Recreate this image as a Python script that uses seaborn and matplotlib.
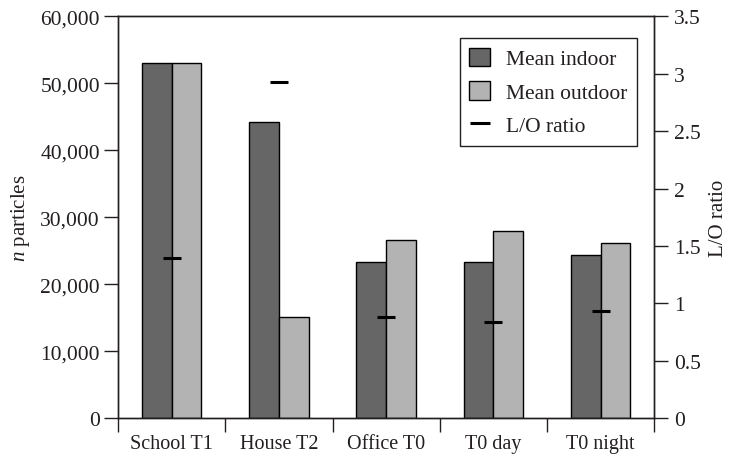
import numpy as np
import pandas as pd
import matplotlib
matplotlib.use("Agg")
import matplotlib.pyplot as plt
from matplotlib.patches import Patch
from matplotlib.lines import Line2D
from matplotlib.ticker import FixedLocator, FuncFormatter, MultipleLocator
import seaborn as sns

sites = ["School T1", "House T2", "Office T0", "T0 day", "T0 night"]
mean_indoor = [53000, 44200, 23400, 23400, 24400]
mean_outdoor = [53000, 15100, 26600, 27900, 26100]
lo_ratio = [1.40, 2.93, 0.88, 0.84, 0.93]
series_names = ["Mean indoor", "Mean outdoor"]
ratio_name = "L/O ratio"

dark = "#666666"
light = "#b3b3b3"
ink = "#231f20"

sns.set_style("ticks")
plt.rcParams["font.family"] = ["Liberation Serif", "DejaVu Serif"]
plt.rcParams["mathtext.fontset"] = "custom"
plt.rcParams["mathtext.it"] = "Liberation Serif:italic"
plt.rcParams["mathtext.rm"] = "Liberation Serif"
fs_y = 15.5
fs_x = 14.5
fs_lab = 15.0
fs_leg = 15.5

df = pd.DataFrame({
    "site": sites * 2,
    "series": [series_names[0]] * len(sites) + [series_names[1]] * len(sites),
    "count": mean_indoor + mean_outdoor,
})

fig = plt.figure(figsize=(7.3, 4.56), dpi=100)
ax = fig.add_axes([0.1616, 0.0805, 0.8963 - 0.1616, 0.962 - 0.0805])

sns.barplot(data=df, x="site", y="count", hue="series", order=sites,
            hue_order=series_names, palette=[dark, light], width=0.556,
            saturation=1, edgecolor="black", linewidth=1.0, ax=ax,
            legend=False, errorbar=None)

ax.set_ylim(0, 60000)
ax.yaxis.set_major_locator(MultipleLocator(10000))
ax.yaxis.set_major_formatter(FuncFormatter(lambda v, p: f"{int(v):,}"))
ax.set_ylabel(r"$\mathit{n}$ particles", fontsize=fs_lab, color=ink, labelpad=6)
ax.set_xlabel("")

ax2 = ax.twinx()
sns.scatterplot(x=np.arange(len(sites)), y=lo_ratio, marker="_", s=180,
                color="black", linewidth=2.2, ax=ax2, legend=False, zorder=5)
ax2.set_ylim(0, 3.5)
ax2.yaxis.set_major_locator(MultipleLocator(0.5))
ax2.yaxis.set_major_formatter(FuncFormatter(lambda v, p: f"{v:g}"))
ax2.set_ylabel(ratio_name, fontsize=fs_lab, color=ink, labelpad=6)

for a in (ax, ax2):
    a.set_xlim(-0.5, len(sites) - 0.5)
    for s in a.spines.values():
        s.set_visible(True)
        s.set_color(ink)
        s.set_linewidth(1.0)

ax.xaxis.set_major_locator(FixedLocator(np.arange(-0.5, len(sites), 1.0)))
ax.xaxis.set_minor_locator(FixedLocator(np.arange(len(sites))))
ax.set_xticklabels([""] * (len(sites) + 1))
ax.set_xticklabels(sites, minor=True)
ax.tick_params(axis="x", which="major", direction="out", length=10, width=1, color=ink)
ax.tick_params(axis="x", which="minor", length=0, labelsize=fs_x, labelcolor=ink, pad=11)
ax.tick_params(axis="y", direction="out", length=10, width=1, color=ink,
               labelsize=fs_y, labelcolor=ink, pad=3)
ax2.tick_params(axis="y", direction="out", length=10, width=1, color=ink,
                labelsize=fs_y, labelcolor=ink, pad=4)

handles = [
    Patch(facecolor=dark, edgecolor="black", linewidth=1.0),
    Patch(facecolor=light, edgecolor="black", linewidth=1.0),
    Line2D([], [], color="black", marker="_", linestyle="", markersize=15, mew=2.2),
]
leg = ax2.legend(handles, series_names + [ratio_name], loc="upper right",
                 bbox_to_anchor=(0.968, 0.946), fontsize=fs_leg, frameon=True,
                 fancybox=False, framealpha=1, edgecolor=ink,
                 handlelength=0.95, handleheight=0.95, labelspacing=0.55,
                 borderpad=0.45, handletextpad=0.75, borderaxespad=0)
leg.get_frame().set_linewidth(1.0)
for t in leg.get_texts():
    t.set_color(ink)

fig.savefig("out.png", dpi=100)
